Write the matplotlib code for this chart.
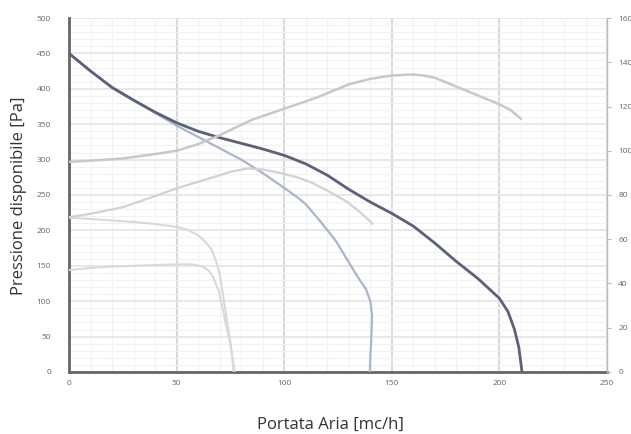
import matplotlib
matplotlib.use("Agg")
import matplotlib.pyplot as plt
from matplotlib.ticker import MultipleLocator

# --- Pressure curves [Pa] vs air flow [mc/h] ---
flow_max = [0, 10, 20, 30, 40, 50, 60, 70, 80, 90, 100, 110, 120, 130, 140,
            150, 160, 170, 180, 190, 195, 200, 204, 207, 209, 210.5]
press_max = [450, 425, 402, 384, 367, 352, 340, 331, 323, 315, 306, 294, 278,
             258, 240, 224, 206, 182, 156, 132, 118, 104, 85, 60, 35, 0]

flow_mid = [0, 20, 40, 50, 60, 70, 80, 90, 100, 106, 110, 117, 124, 129, 134,
            138, 140, 140.8, 140.5, 140, 139.8]
press_mid = [450, 401, 366, 348, 332, 316, 300, 281, 260, 247, 237, 212, 185,
             160, 135, 117, 100, 80, 50, 20, 0]

flow_low = [0, 10, 20, 30, 40, 50, 55, 60, 63, 66, 68, 70, 71.5, 73, 74.5, 76, 77]
press_low = [218, 216, 214, 212, 209, 205, 201, 193, 185, 174, 160, 138, 110,
             80, 50, 20, 0]

flow_min = [0, 10, 20, 30, 40, 50, 57, 62, 65, 67, 69.5, 71.5, 73, 75, 76, 76.5]
press_min = [144, 147, 149, 150, 151, 152, 152, 149, 143, 134, 115, 88, 65,
             40, 15, 0]

# --- Absorbed power curves (right axis) ---
flow_pow_hi = [0, 10, 25, 40, 50, 60, 70, 85, 100, 115, 130, 140, 150, 160,
               165, 170, 180, 190, 200, 205, 210]
power_hi = [95, 95.5, 96.5, 98.5, 100, 103, 107, 114, 119, 124, 130, 132.5,
            134, 134.5, 134, 133, 129, 125, 121, 118.5, 114.5]

flow_pow_lo = [0, 10, 25, 40, 50, 60, 67, 75, 83, 90, 98, 106, 113, 121, 129,
               135, 141]
power_lo = [70, 71.5, 74.5, 79.5, 83, 86, 88, 90.5, 92, 91.5, 90, 88, 85.5,
            81.5, 77, 72.5, 67]

x_ticks = [0, 50, 100, 150, 200, 250]
y_ticks = list(range(0, 501, 50))
y2_ticks = list(range(0, 161, 20))

plt.rcParams['font.family'] = ['Open Sans', 'DejaVu Sans']

fig = plt.figure(figsize=(6.31, 4.34), dpi=100)
ax = fig.add_axes([0.1094, 0.1429, 0.8526, 0.8156])
ax2 = ax.twinx()

ax.set_xlim(0, 250)
ax.set_ylim(0, 500)
ax2.set_ylim(0, 160)

# grid
ax.xaxis.set_minor_locator(MultipleLocator(10))
ax.yaxis.set_minor_locator(MultipleLocator(10))
ax.grid(which='major', axis='x', color='#dadada', lw=1.5)
ax.grid(which='major', axis='y', color='#e4e4e4', lw=1.2)
ax.grid(which='minor', color='#f2f2f2', lw=0.8)
ax.set_axisbelow(True)

# curves
ax.plot(flow_min, press_min, color='#d9d9d9', lw=1.5, zorder=3)
ax.plot(flow_low, press_low, color='#d9d9d9', lw=1.5, zorder=3)
ax2.plot(flow_pow_lo, power_lo, color='#d2d2d2', lw=1.6, zorder=3)
ax2.plot(flow_pow_hi, power_hi, color='#c8c8c8', lw=1.8, zorder=3)
ax.plot(flow_mid, press_mid, color='#a9b5cc', lw=1.6, zorder=4)
ax.plot(flow_max, press_max, color='#5b6179', lw=2.0, zorder=5)
ax2.patch.set_visible(False)

# spines
for a in (ax, ax2):
    a.spines['top'].set_visible(False)
ax.spines['left'].set_color('#666666')
ax.spines['left'].set_linewidth(2.0)
ax.spines['bottom'].set_color('#666666')
ax.spines['bottom'].set_linewidth(2.0)
ax.spines['right'].set_visible(False)
ax2.spines['left'].set_visible(False)
ax2.spines['bottom'].set_visible(False)
ax2.spines['right'].set_color('#bdbdbd')
ax2.spines['right'].set_linewidth(1.0)

ax.set_xticks(x_ticks)
ax.set_yticks(y_ticks)
ax2.set_yticks(y2_ticks)
ax.tick_params(axis='both', which='both', length=0, labelsize=6,
               labelcolor='#666666')
ax.tick_params(axis='y', pad=13)
ax.tick_params(axis='x', pad=6)
ax2.tick_params(axis='y', length=3, color='#bdbdbd', labelsize=6,
                labelcolor='#666666', pad=5)

fig.text(0.523, 0.021, 'Portata Aria [mc/h]', ha='center', va='center',
         fontsize=12, color='#333333')
fig.text(0.03, 0.548, 'Pressione disponibile [Pa]', ha='center', va='center',
         rotation=90, fontsize=12, color='#333333')

fig.savefig('out.png', dpi=100, facecolor='white')
